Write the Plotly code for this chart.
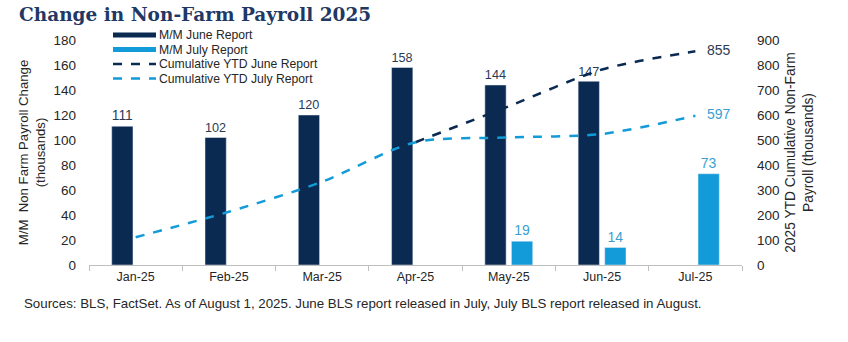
import plotly.graph_objects as go

months = ["Jan-25", "Feb-25", "Mar-25", "Apr-25", "May-25", "Jun-25", "Jul-25"]
mm_june = [111, 102, 120, 158, 144, 147, None]
mm_july = [None, None, None, None, 19, 14, 73]
cum_june = [None, None, None, 491, 635, 782, 855]
cum_july = [111, 213, 333, 491, 510, 524, 597]
legend_names = ["M/M June Report", "M/M July Report",
                "Cumulative YTD June Report", "Cumulative YTD July Report"]

NAVY = "#0b2a52"
LBLUE = "#129bd8"
TXT = "#262626"
FONT = "Liberation Sans"

L, R, T, B = 89, 106, 40, 77
PW, PH = 848 - L - R, 342 - T - B

def px(x):
    return (x - L) / PW

def py(y):
    return (342 - B - y) / PH

def last_label(vals):
    return ["   " + str(v) if i == len(vals) - 1 else "" for i, v in enumerate(vals)]

fig = go.Figure()
fig.add_trace(go.Bar(x=months, y=mm_june, marker_color=NAVY, name=legend_names[0],
                     text=[str(v) if v is not None else "" for v in mm_june],
                     textposition="outside", textfont=dict(color="#2b3a55", size=14, family=FONT),
                     cliponaxis=False))
fig.add_trace(go.Bar(x=months, y=mm_july, marker_color=LBLUE, name=legend_names[1],
                     text=[str(v) if v is not None else "" for v in mm_july],
                     textposition="outside", textfont=dict(color="#3a9fd0", size=14, family=FONT),
                     cliponaxis=False))
fig.add_trace(go.Scatter(x=months, y=cum_june, yaxis="y2", mode="lines+text", name=legend_names[2],
                         line=dict(color=NAVY, width=2.5, dash="dash", shape="spline", smoothing=0.8),
                         text=last_label(cum_june), textposition="middle right",
                         textfont=dict(color="#2b3a55", size=14, family=FONT), cliponaxis=False))
fig.add_trace(go.Scatter(x=months, y=cum_july, yaxis="y2", mode="lines+text", name=legend_names[3],
                         line=dict(color=LBLUE, width=2.5, dash="dash", shape="spline", smoothing=0.8),
                         text=last_label(cum_july), textposition="middle right",
                         textfont=dict(color="#3a9fd0", size=14, family=FONT), cliponaxis=False))

# custom compact legend (Excel-like)
rows = [35, 49.5, 64, 78.5]
shapes = []
annotations = []
styles = [(NAVY, 5, "solid"), (LBLUE, 5, "solid"), (NAVY, 2.5, "dash"), (LBLUE, 2.5, "dash")]
for name, yy, (col, w, d) in zip(legend_names, rows, styles):
    shapes.append(dict(type="line", xref="paper", yref="paper", x0=px(113), x1=px(156),
                       y0=py(yy), y1=py(yy), line=dict(color=col, width=w, dash=d)))
    annotations.append(dict(text=name, xref="paper", yref="paper", x=px(157), y=py(yy),
                            xanchor="left", yanchor="middle", showarrow=False,
                            font=dict(family=FONT, size=12.2, color=TXT)))

annotations.append(dict(text="<b>Change in Non-Farm Payroll 2025</b>", xref="paper", yref="paper",
                        x=px(17), y=py(15), xanchor="left", yanchor="middle", showarrow=False,
                        font=dict(family="DejaVu Serif", size=18.5, color="#1f3864")))
annotations.append(dict(text="Sources: BLS, FactSet. As of August 1, 2025. June BLS report released in July, July BLS report released in August.",
                        xref="paper", yref="paper", x=px(22), y=py(303), xanchor="left", yanchor="middle",
                        showarrow=False, font=dict(family=FONT, size=13.3, color=TXT)))

fig.update_layout(
    width=848, height=342,
    margin=dict(l=L, r=R, t=T, b=B),
    paper_bgcolor="white", plot_bgcolor="white",
    barmode="group", bargap=0.43, bargroupgap=0.2,
    font=dict(family=FONT, color=TXT, size=12),
    showlegend=False,
    shapes=shapes,
    annotations=annotations,
    xaxis=dict(type="category", showline=True, linecolor="#bfbfbf", linewidth=1,
               ticks="outside", tickson="boundaries", tickcolor="#bfbfbf", ticklen=5,
               showgrid=False, tickfont=dict(size=12.5, color=TXT)),
    yaxis=dict(range=[0, 180], dtick=20, showgrid=False, zeroline=False,
               tickfont=dict(size=13.5, color=TXT), ticks="", ticklabelstandoff=12,
               title=dict(text="M/M  Non Farm Payroll Change<br>(thousands)",
                          font=dict(size=13.2, color=TXT), standoff=4)),
    yaxis2=dict(range=[0, 900], dtick=100, overlaying="y", side="right", showgrid=False,
                zeroline=False, tickfont=dict(size=13.5, color=TXT), ticks="", ticklabelstandoff=14,
                title=dict(text="2025 YTD Cumulative Non-Farm<br>Payroll (thousands)",
                           font=dict(size=13.8, color=TXT), standoff=6)),
)

fig.write_html("out.html")
